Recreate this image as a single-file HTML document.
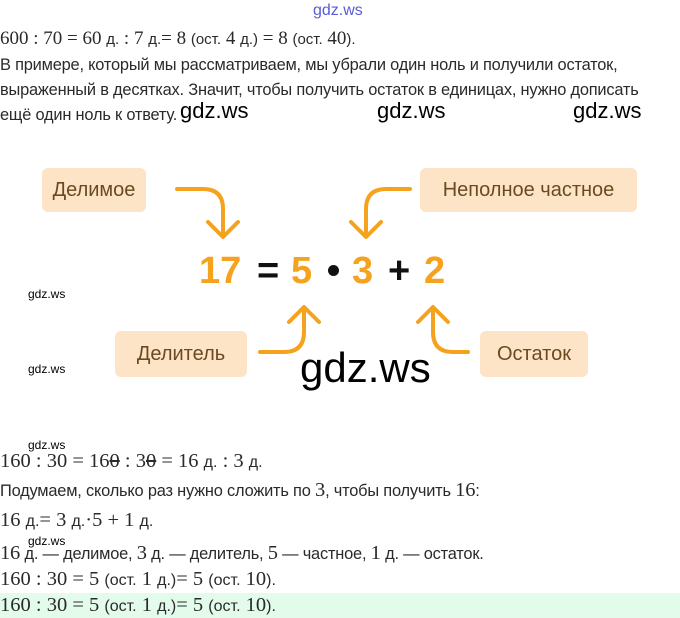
<!DOCTYPE html>
<html><head><meta charset="utf-8"><style>
body{margin:0;width:680px;height:618px;background:#fff;position:relative;overflow:hidden;font-family:"Liberation Sans",sans-serif;color:#2a2a2a}
.a{position:absolute;white-space:nowrap}
.m{font-family:"Liberation Serif",serif;font-size:19px}
.s{font-family:"Liberation Sans",sans-serif;font-size:15px}
.t{font-size:16.4px;letter-spacing:-0.2px}
.w{font-family:"Liberation Sans",sans-serif;color:#000}
.box{position:absolute;background:#fde4c6;border-radius:6px;color:#6b4a22;font-size:20px;display:flex;align-items:center;justify-content:center}
.d{position:absolute;font-size:38px;font-weight:bold;color:#f5a21e;top:250px}
.b .m{font-size:20.5px}.b .s{font-size:16px}
</style></head><body>
<div class="a" style="left:313px;top:2px;font-size:16px;color:#5a5ad8">gdz.ws</div>
<div class="a m" style="left:0;top:28px">600 : 70 = 60 <span class="s">д.</span> : 7 <span class="s">д.</span>= 8 <span class="s">(ост.</span> 4 <span class="s">д.)</span> = 8 <span class="s">(ост.</span> 40<span class="s">).</span></div>
<div class="a t" style="left:0;top:56px">В примере, который мы рассматриваем, мы убрали один ноль и получили остаток,</div>
<div class="a t" style="left:0;top:81px">выраженный в десятках. Значит, чтобы получить остаток в единицах, нужно дописать</div>
<div class="a t" style="left:0;top:106px">ещё один ноль к ответу.</div>
<div class="a w" style="left:180px;top:98px;font-size:22px">gdz.ws</div>
<div class="a w" style="left:377px;top:98px;font-size:22px">gdz.ws</div>
<div class="a w" style="left:573px;top:98px;font-size:22px">gdz.ws</div>

<div class="box" style="left:42px;top:168px;width:104px;height:44px">Делимое</div>
<div class="box" style="left:420px;top:168px;width:217px;height:44px">Неполное частное</div>
<div class="box" style="left:115px;top:331px;width:132px;height:46px">Делитель</div>
<div class="box" style="left:480px;top:331px;width:108px;height:46px">Остаток</div>

<svg class="a" style="left:0;top:0" width="680" height="618" fill="none" stroke="#f5a21e" stroke-width="4" stroke-linecap="round" stroke-linejoin="round">
<path d="M177 189 H203 Q223 189 223 209 V236"/><path d="M208 222 L223 237 L238 222"/>
<path d="M410 189 H386 Q366 189 366 209 V236"/><path d="M351 222 L366 237 L381 222"/>
<path d="M260 352 H284 Q304 352 304 332 V308"/><path d="M289 322 L304 307 L319 322"/>
<path d="M468 352 H453 Q433 352 433 332 V308"/><path d="M418 322 L433 307 L448 322"/>
</svg>

<div class="d" style="left:199px">17</div>
<div class="d" style="left:257px;color:#111">=</div>
<div class="d" style="left:291px">5</div>
<div class="a" style="left:328px;top:265px;width:11px;height:11px;border-radius:50%;background:#111"></div>
<div class="d" style="left:352px">3</div>
<div class="d" style="left:388px;color:#111">+</div>
<div class="d" style="left:424px">2</div>

<div class="a w" style="left:28px;top:287px;font-size:12px">gdz.ws</div>
<div class="a w" style="left:28px;top:362px;font-size:12px">gdz.ws</div>
<div class="a w" style="left:300px;top:344px;font-size:42px">gdz.ws</div>
<div class="a w" style="left:28px;top:438px;font-size:12px">gdz.ws</div>
<div class="a w" style="left:28px;top:534px;font-size:12px">gdz.ws</div>

<div class="b">
<div class="a m" style="left:0;top:450px">160 : 30 = 16<s>0</s> : 3<s>0</s> = 16 <span class="s">д.</span> : 3 <span class="s">д.</span></div>
<div class="a t" style="left:0;top:479px">Подумаем, сколько раз нужно сложить по <span class="m">3</span>, чтобы получить <span class="m">16</span>:</div>
<div class="a m" style="left:0;top:509px">16 <span class="s">д.</span>= 3 <span class="s">д.</span>·5 + 1 <span class="s">д.</span></div>
<div class="a t" style="left:0;top:542px"><span class="m">16</span> д. — делимое, <span class="m">3</span> д. — делитель, <span class="m">5</span> — частное, <span class="m">1</span> д. — остаток.</div>
<div class="a m" style="left:0;top:568px">160 : 30 = 5 <span class="s">(ост.</span> 1 <span class="s">д.)</span>= 5 <span class="s">(ост.</span> 10<span class="s">).</span></div>
<div class="a" style="left:0;top:593px;width:680px;height:25px;background:#e2fbea"></div>
<div class="a m" style="left:0;top:594px">160 : 30 = 5 <span class="s">(ост.</span> 1 <span class="s">д.)</span>= 5 <span class="s">(ост.</span> 10<span class="s">).</span></div>
</div>
</body></html>
